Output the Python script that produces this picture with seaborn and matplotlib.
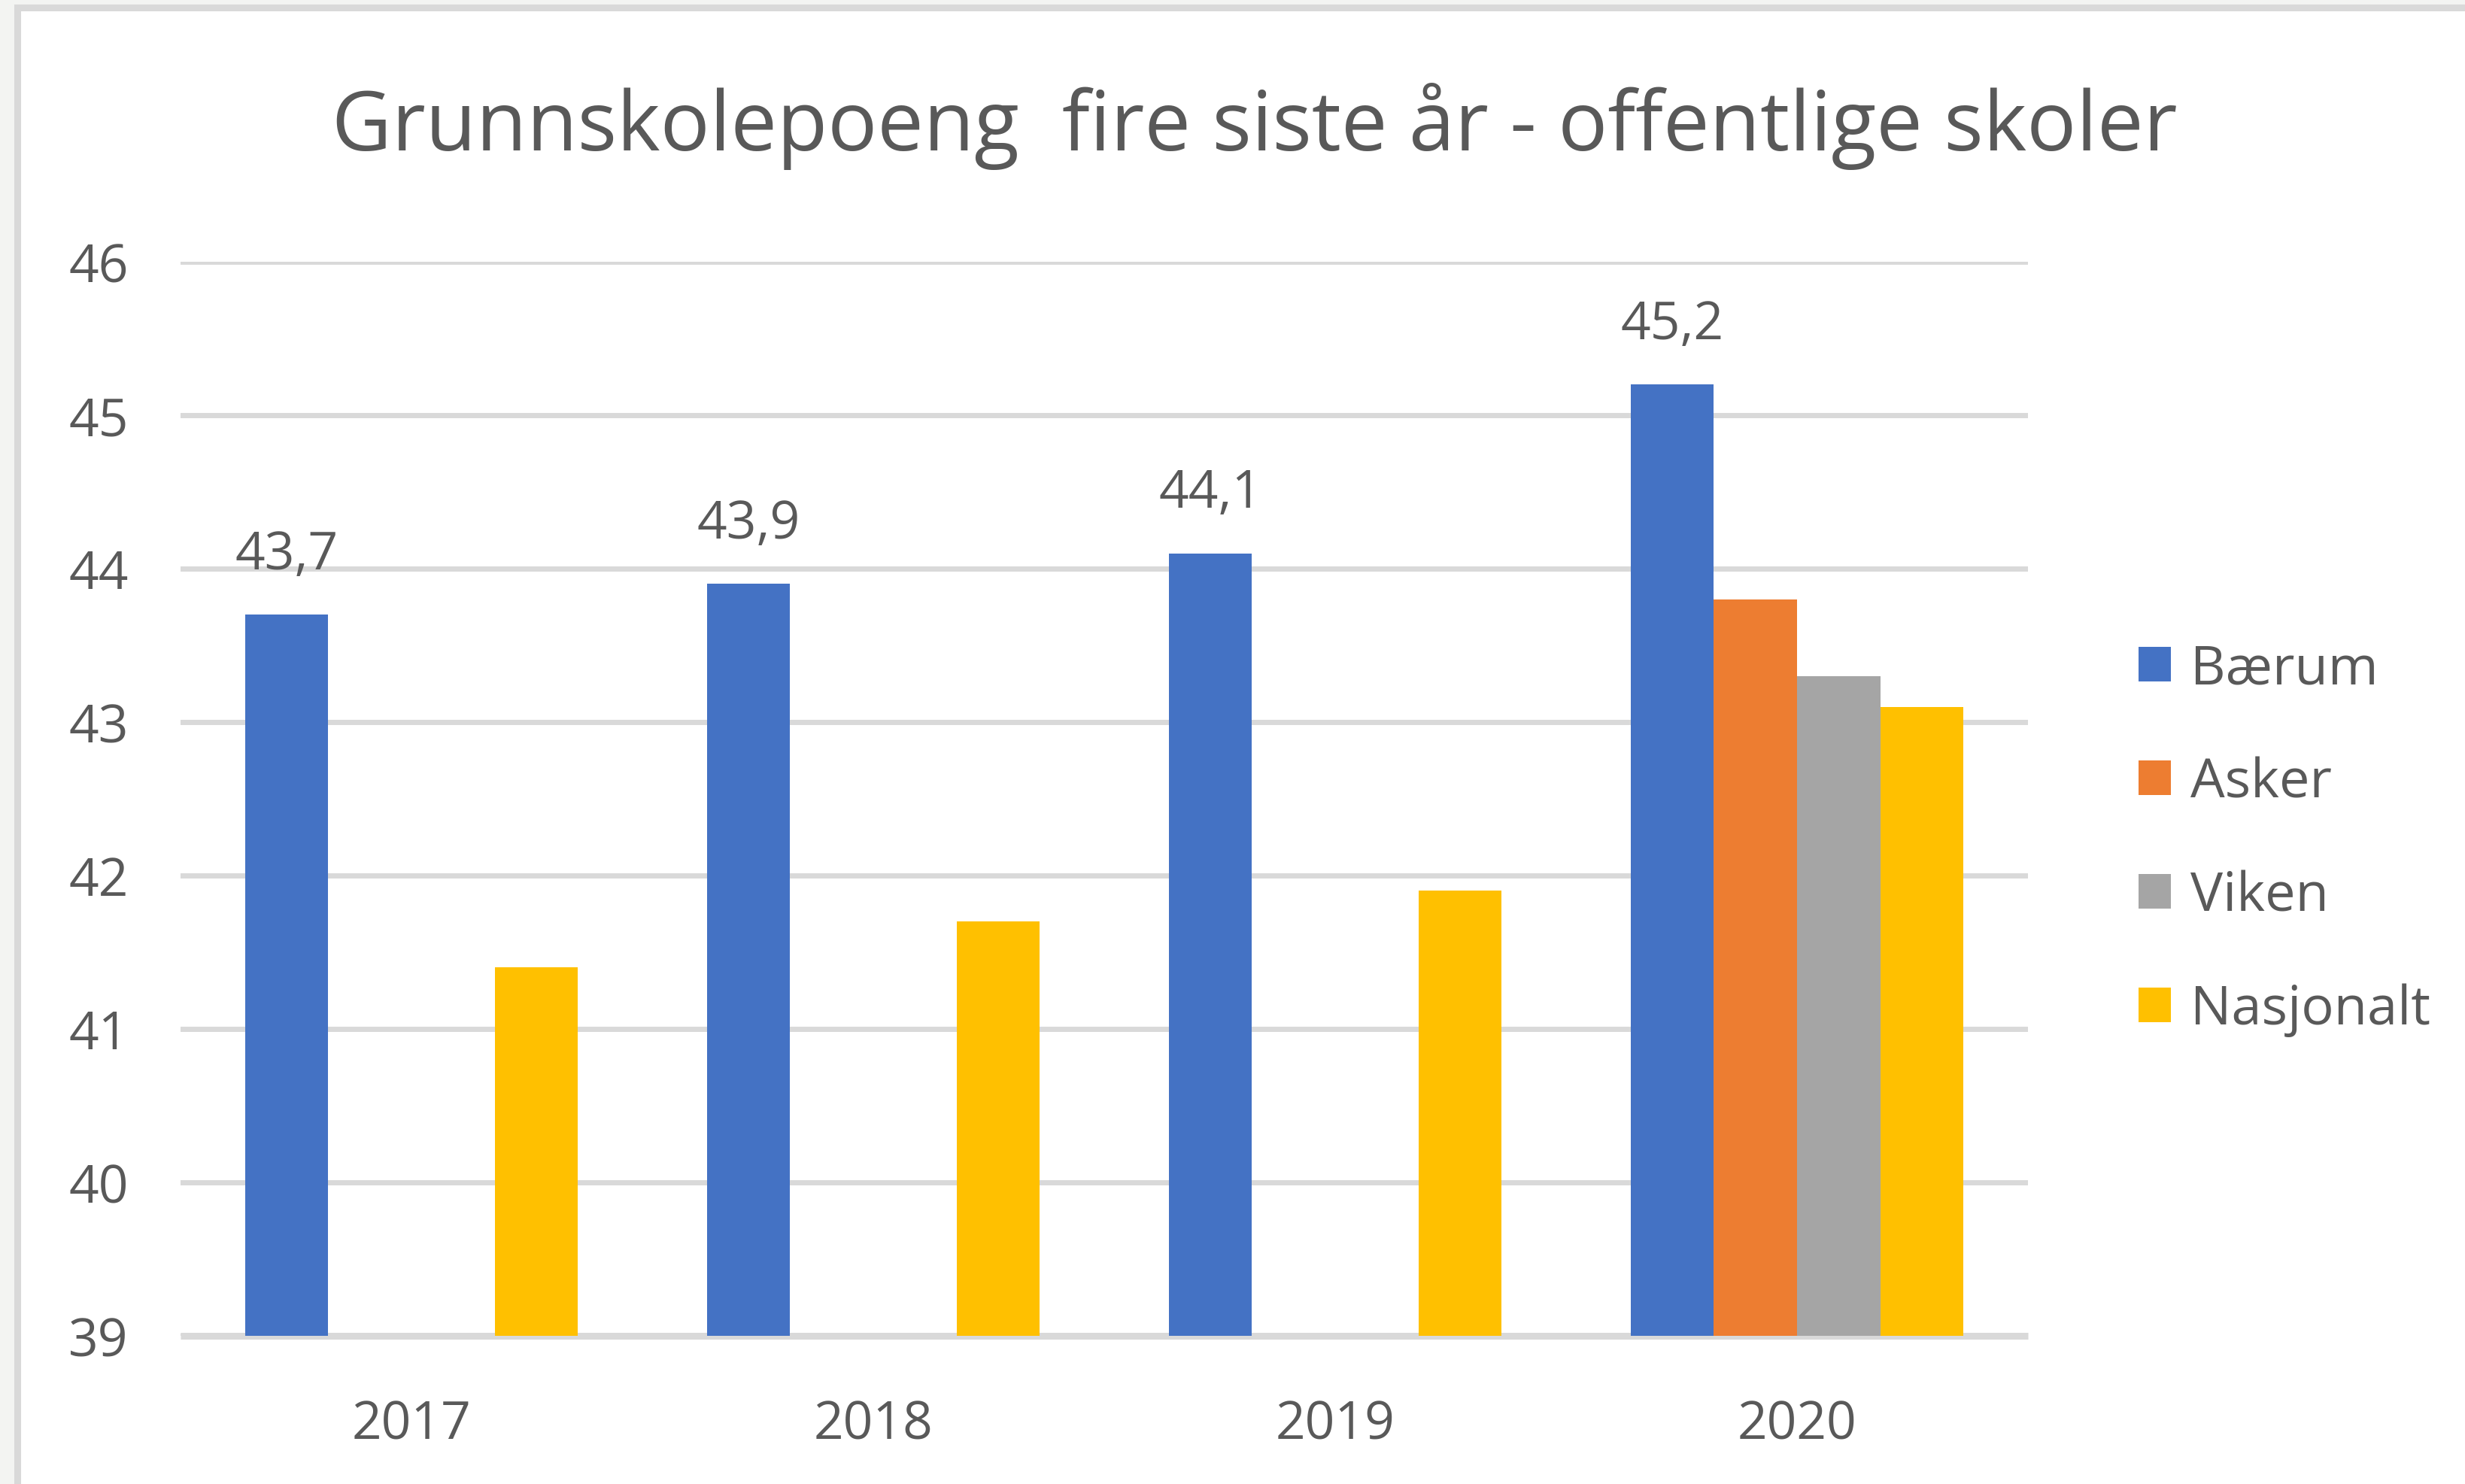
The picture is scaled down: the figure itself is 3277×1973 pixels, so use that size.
import matplotlib
matplotlib.use("Agg")
import matplotlib.pyplot as plt
import seaborn as sns
import pandas as pd
import numpy as np
from matplotlib.patches import Rectangle, Patch

years = ["2017", "2018", "2019", "2020"]
series = ["Bærum", "Asker", "Viken", "Nasjonalt"]
baerum = [43.7, 43.9, 44.1, 45.2]
asker = [None, None, None, 43.8]
viken = [None, None, None, 43.3]
nasjonalt = [41.4, 41.7, 41.9, 43.1]
colors = ["#4472c4", "#ed7d31", "#a5a5a5", "#ffc000"]
title = "Grunnskolepoeng  fire siste år - offentlige skoler"
yticks = [39, 40, 41, 42, 43, 44, 45, 46]

rows = []
for name, vals in zip(series, [baerum, asker, viken, nasjonalt]):
    for y, v in zip(years, vals):
        if v is not None:
            rows.append({"År": y, "Serie": name, "Verdi": v})
df = pd.DataFrame(rows)

sns.set_theme(style="white")
font = ["Open Sans", "DejaVu Sans"]
plt.rcParams["font.family"] = font
txt = "#595959"
grid = "#d9d9d9"

W, H = 3277, 1974
fig = plt.figure(figsize=(W / 100, H / 100), dpi=100)
fig.patch.set_facecolor("#f3f4f2")
# chart frame
frame = Rectangle((23 / W, -0.1), 1.2, 1.1 - 10.5 / H,
                  transform=fig.transFigure, facecolor="white",
                  edgecolor=grid, linewidth=6.5, zorder=-10)
fig.patches.append(frame)

ax = fig.add_axes([240 / W, 1 - 1777 / H, (2696 - 240) / W, (1777 - 349) / H])
ax.set_zorder(5)
ax.set_facecolor("none")
sns.barplot(data=df, x="År", y="Verdi", hue="Serie", order=years,
            hue_order=series, palette=colors, width=0.72, dodge=True,
            saturation=1, linewidth=0, edgecolor="none", ax=ax,
            legend=False, zorder=3)

ax.set_ylim(39, 46)
ax.set_yticks(yticks)
ax.yaxis.grid(True, color=grid, linewidth=5, zorder=0)
ax.set_axisbelow(True)
for s in ["left", "right", "top"]:
    ax.spines[s].set_visible(False)
ax.spines["bottom"].set_color(grid)
ax.spines["bottom"].set_linewidth(6.5)
ax.spines["bottom"].set_capstyle("butt")
ax.tick_params(axis="both", length=0, labelsize=50, labelcolor=txt)
ax.tick_params(axis="y", pad=50)
ax.tick_params(axis="x", pad=60)
ax.set_xlabel("")
ax.set_ylabel("")

# data labels on Bærum bars
for cont in ax.containers[:1]:
    labels = [f"{v:.1f}".replace(".", ",") for v in baerum]
    ax.bar_label(cont, labels=labels, padding=32, fontsize=50, color=txt)

fig.text(0.509, 0.915, title, ha="center", va="center", fontsize=79, color=txt)

handles = [Patch(facecolor=c, edgecolor="none") for c in colors]
leg = fig.legend(handles, series, loc="center left",
                 bbox_to_anchor=(2843 / W, 1 - 1117 / H), frameon=False,
                 fontsize=52, handlelength=0.6, handleheight=0.6,
                 handletextpad=0.35, labelspacing=1.1, borderpad=0,
                 borderaxespad=0)
for t in leg.get_texts():
    t.set_color(txt)

fig.savefig("out.png", dpi=100, facecolor=fig.get_facecolor())
